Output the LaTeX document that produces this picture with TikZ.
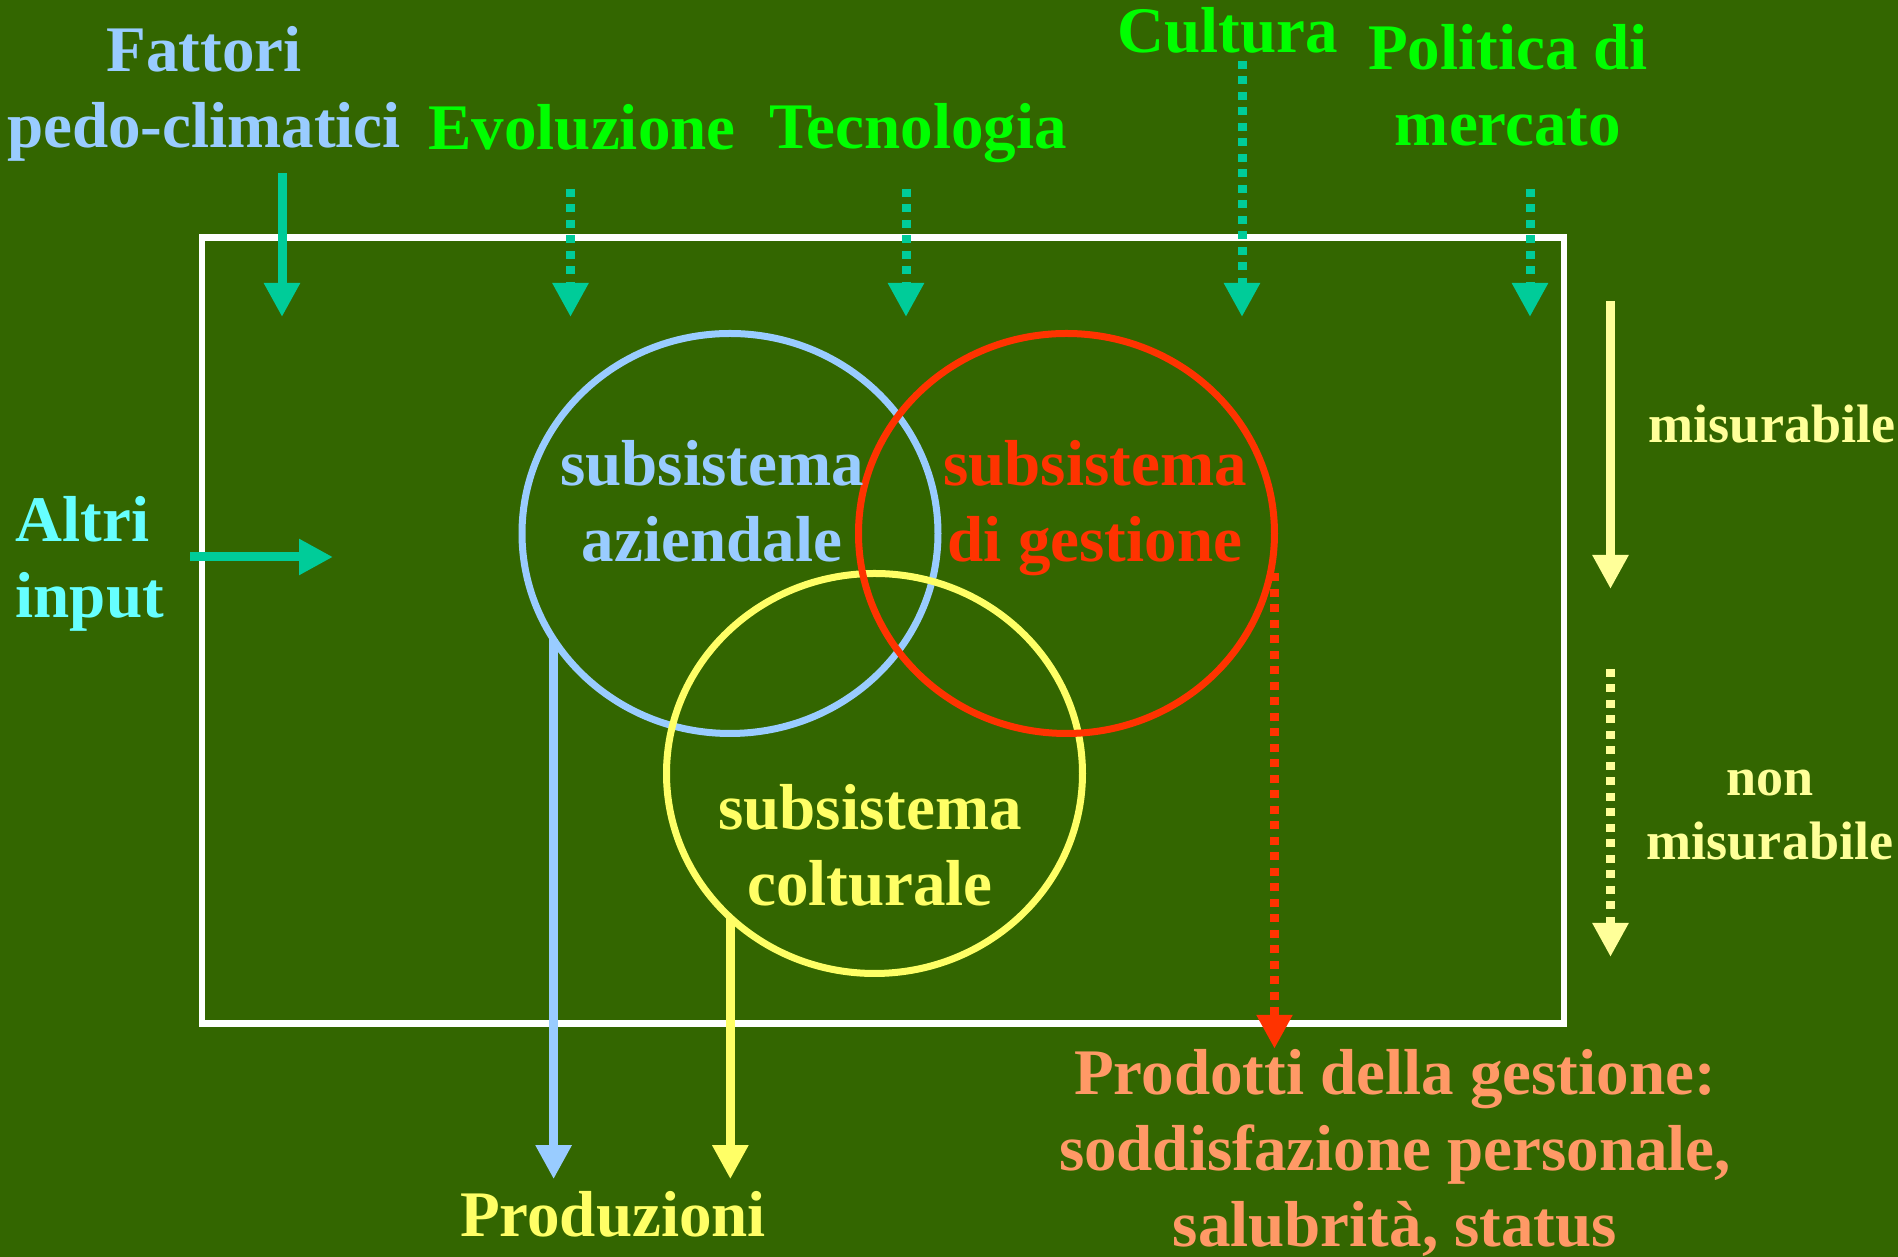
\documentclass[tikz,border=0pt]{standalone}
\usepackage{fontspec}
\setmainfont{Liberation Serif}
\usetikzlibrary{arrows.meta, shapes.geometric}
\definecolor{bggreen}{HTML}{336600}
\definecolor{inputteal}{HTML}{00CC99}
\definecolor{skyblue}{HTML}{99CCFF}
\definecolor{brightgreen}{HTML}{00FF00}
\definecolor{lightyellow}{HTML}{FFFF66}
\definecolor{paleyellow}{HTML}{FFFF99}
\definecolor{redorange}{HTML}{FF3300}
\definecolor{salmon}{HTML}{FF9966}
\definecolor{aqua}{HTML}{66FFFF}
\tikzstyle{Label}=[inner sep=0pt, align=center, font=\bfseries\fontsize{18.5}{21.6}\selectfont]
\tikzstyle{Small}=[inner sep=0pt, align=center, text=paleyellow, font=\bfseries\fontsize{15.4}{18.2}\selectfont]
\tikzstyle{Sub}=[ellipse, draw, line width=0.07cm, minimum width=4.16cm, minimum height=4cm, inner sep=0pt, outer sep=0pt]
\tikzstyle{Flow}=[line width=0.09cm, -{Triangle[width=0.34cm, length=0.34cm]}]
\tikzstyle{Dots}=[Flow, dash pattern=on 0.08cm off 0.075cm]

\begin{document}
\begin{tikzpicture}
	\fill[bggreen] (0,0) rectangle (18.98,-12.57);
	\useasboundingbox (0,0) rectangle (18.98,-12.57);
	\draw[white, line width=0.065cm] (2.02,-2.375) rectangle (15.64,-10.235);

	% the three subsystems
	\node[Sub, draw=skyblue] (azi) at (7.30,-5.335) {};
	\node[Sub, draw=lightyellow] (col) at (8.745,-7.735) {};
	\node[Sub, draw=redorange] (ges) at (10.665,-5.335) {};
	\node[Label, text=skyblue] (aziT) at (7.12,-5.01) {subsistema\\aziendale};
	\node[Label, text=redorange] (gesT) at (10.95,-5.08) {subsistema\\di gestione};
	\node[Label, text=lightyellow] (colT) at (8.70,-8.455) {subsistema\\colturale};

	% external factors
	\node[Label, text=skyblue] (fat) at (2.04,-0.935) {Fattori\\pedo-climatici};
	\node[Label, text=brightgreen, anchor=base] (evo) at (5.82,-1.50) {Evoluzione};
	\node[Label, text=brightgreen, anchor=base] (tec) at (9.18,-1.49) {Tecnologia};
	\node[Label, text=brightgreen, anchor=base] (cul) at (12.28,-0.53) {Cultura};
	\node[Label, text=brightgreen] (pol) at (15.08,-0.85) {Politica di\\mercato};
	\node[Label, text=aqua, align=left, anchor=west] (alt) at (0.15,-5.64) {Altri\\input};

	\node[Small, anchor=base] (mis) at (17.72,-4.43) {misurabile};
	\node[Small] (nonmis) at (17.70,-8.155) {non\\misurabile};

	\node[Label, text=lightyellow, anchor=base] (pro) at (6.13,-12.37) {Produzioni};
	\node[Label, text=salmon] (ris) at (13.95,-11.53) {Prodotti della gestione:\\soddisfazione personale,\\salubrità, status};

	\foreach \n/\x/\y in {fat/2.82/1.73, evo/5.705/1.89, tec/9.06/1.89, cul/12.42/0.61, pol/15.30/1.89}
		\coordinate (\n-in) at (\x,-\y);
	\coordinate (row) at (0,-3.17);
	\draw[Flow, inputteal] (fat-in) -- (fat-in |- row);
	\foreach \n in {evo,tec,cul,pol}
		\draw[Dots, inputteal] (\n-in) -- (\n-in |- row);

	\coordinate (alt-in) at (1.90,-5.57);
	\coordinate (alt-out) at (3.33,-5.57);
	\draw[Flow, inputteal] (alt-in) -- (alt-out);

	\coordinate (m1) at (16.105,-3.01);
	\coordinate (m2) at (16.105,-5.89);
	\coordinate (m3) at (16.105,-6.69);
	\coordinate (m4) at (16.105,-9.57);
	\draw[Flow, paleyellow] (m1) -- (m2);
	\draw[Dots, paleyellow] (m3) -- (m4);

	% outputs
	\draw[Flow, skyblue, shorten >=0.12cm] (azi.211) -- (azi.211 |- pro.north);
	\draw[Flow, lightyellow, shorten >=0.12cm] (col.225) -- (col.225 |- pro.north);
	\draw[Dots, redorange, shorten <=0.4cm] (ges.east) -- (ges.east |- ris.north);
\end{tikzpicture}
\end{document}
